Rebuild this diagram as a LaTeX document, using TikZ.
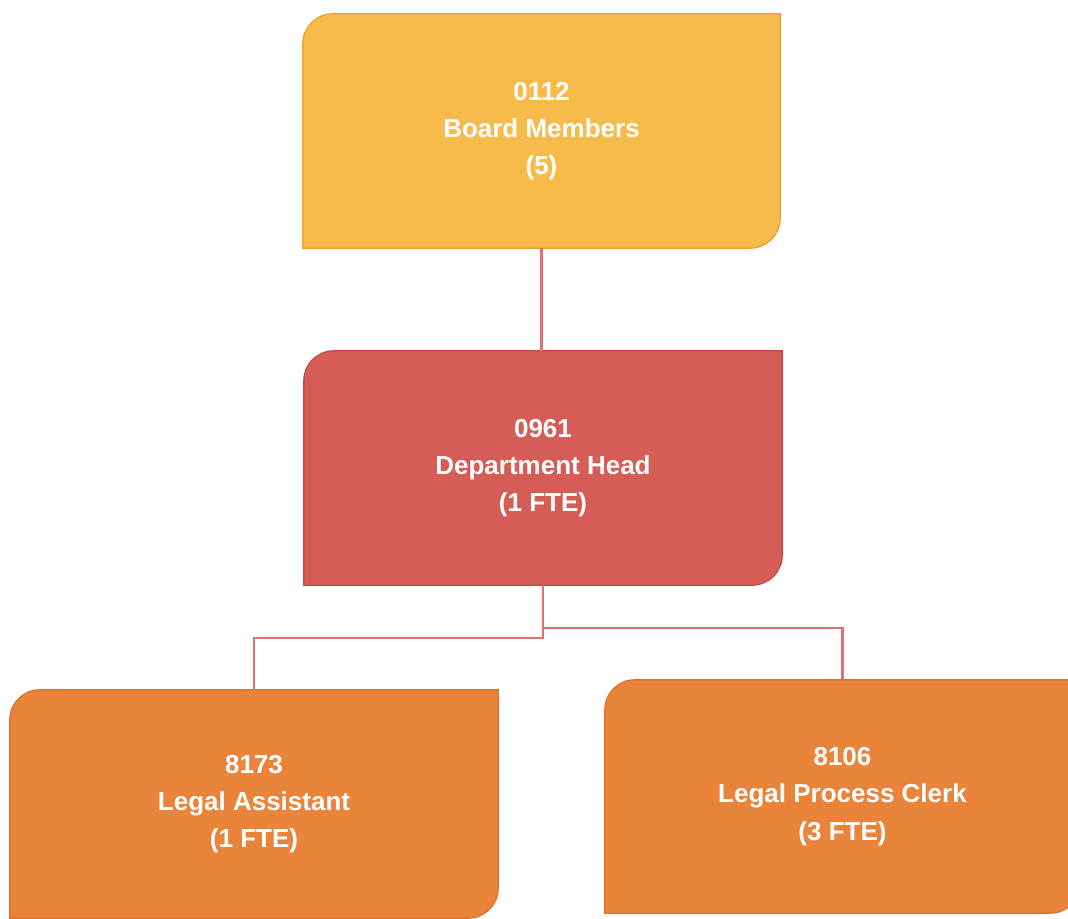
\documentclass[tikz,border=0pt]{standalone}
\usepackage{fontspec}
\setmainfont{Liberation Sans}
\usetikzlibrary{backgrounds}
\definecolor{cTop}{RGB}{246,187,74}
\definecolor{cTopEdge}{RGB}{232,160,40}
\definecolor{cMid}{RGB}{214,92,86}
\definecolor{cMidEdge}{RGB}{200,70,66}
\definecolor{cLow}{RGB}{234,132,58}
\definecolor{cLowEdge}{RGB}{222,112,40}
\definecolor{cLine}{RGB}{226,112,112}
\tikzset{
  orgbox/.style={inner sep=0pt, text=white, align=center,
    font=\bfseries\fontsize{19.5}{28}\selectfont},
  link/.style={draw=cLine, line width=1.6pt}
}
\newcommand\orgshape[3]{%
  \begin{pgfonlayer}{background}
  \filldraw[fill=#2, draw=#3, line width=0.8pt]
    (#1.south west) -- ([yshift=-22.5pt]#1.north west)
    arc[start angle=180, end angle=90, radius=22.5pt]
    -- (#1.north east) -- ([yshift=22.5pt]#1.south east)
    arc[start angle=0, end angle=-90, radius=22.5pt] -- cycle;
  \end{pgfonlayer}}
\begin{document}
\begin{tikzpicture}[x=0.75pt, y=-0.75pt]
\useasboundingbox (0,0) rectangle (1068,919);
\node[orgbox, minimum width=357.75pt, minimum height=175.5pt] (top) at (541.5,131) {0112\\Board Members\\(5)};
\node[orgbox, minimum width=358.5pt, minimum height=175.5pt] (mid) at (543,468) {0961\\Department Head\\(1 FTE)};
\node[orgbox, minimum width=366pt, minimum height=171pt] (la) at (254,804) {8173\\Legal Assistant\\(1 FTE)};
\node[orgbox, minimum width=356.25pt, minimum height=174.75pt] (lpc) at (842.5,796.5) {8106\\Legal Process Clerk\\(3 FTE)};
\orgshape{top}{cTop}{cTopEdge}
\orgshape{mid}{cMid}{cMidEdge}
\orgshape{la}{cLow}{cLowEdge}
\orgshape{lpc}{cLow}{cLowEdge}
\coordinate (hl) at (0,638);
\coordinate (hr) at (0,628);
\draw[link] (top.south) -- (top.south |- mid.north);
\draw[link] (mid.south) -- (mid.south |- hl) -- (la.north |- hl) -- (la.north);
\draw[link] (mid.south |- hr) -- (lpc.north |- hr) -- (lpc.north);
\end{tikzpicture}
\end{document}
